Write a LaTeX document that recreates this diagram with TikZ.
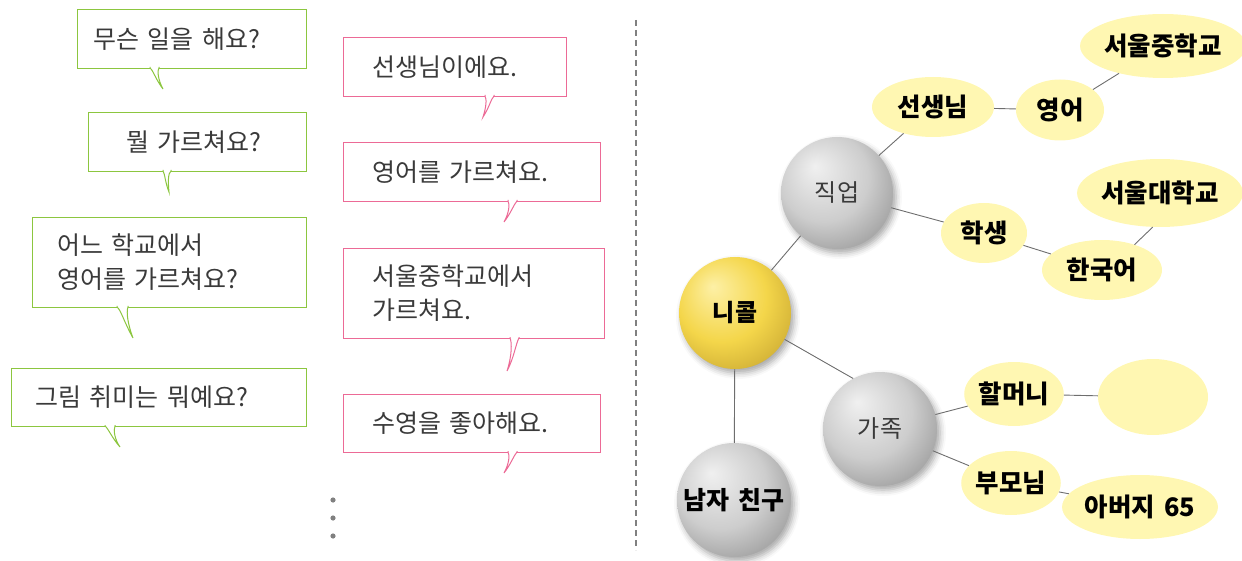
\documentclass[tikz,border=0pt]{standalone}
\usepackage{fontspec}
\setmainfont{Noto Sans CJK KR}
\newfontfamily\talkfont[WordSpace=1.8]{Noto Sans CJK KR}
\newfontfamily\mapfont[WordSpace=1.5]{Noto Sans CJK KR}
\usepackage{xcolor}
\usetikzlibrary{shapes.geometric,shadows.blur}

\definecolor{askgreen}{HTML}{8CC63F}
\definecolor{answerpink}{HTML}{EC6A96}
\definecolor{leafyellow}{HTML}{FFF7B2}
\definecolor{talkgray}{HTML}{3A3A3A}
\definecolor{linkgray}{HTML}{6E6E6E}
\definecolor{greyhi}{HTML}{F0F0F0}
\definecolor{greymid}{HTML}{CDCDCD}
\definecolor{greylo}{HTML}{9C9C9C}
\definecolor{goldhi}{HTML}{FDF0A6}
\definecolor{goldmid}{HTML}{F4D64A}
\definecolor{goldlo}{HTML}{CDAC34}

\pgfdeclareradialshading{greyball}{\pgfpoint{-10bp}{12bp}}{color(0bp)=(greyhi); color(20bp)=(greymid); color(34bp)=(greylo); color(50bp)=(greylo)}
\pgfdeclareradialshading{goldball}{\pgfpoint{-10bp}{12bp}}{color(0bp)=(goldhi); color(20bp)=(goldmid); color(34bp)=(goldlo); color(50bp)=(goldlo)}

\begin{document}
\begin{tikzpicture}[
    x=1pt, y=-1pt,
    ask/.style={rectangle, draw=askgreen, line width=1pt, fill=white, anchor=north west, align=left, inner ysep=0pt, text=talkgray, font={\talkfont\fontsize{25pt}{34pt}\selectfont}},
    answer/.style={ask, draw=answerpink},
    asktail/.style={draw=askgreen, fill=white, line width=1pt},
    answertail/.style={asktail, draw=answerpink},
    ball/.style={circle, minimum size=112pt, inner sep=0pt, shading=greyball, text=talkgray, blur shadow={shadow xshift=3pt, shadow yshift=-4pt, shadow blur radius=6pt, shadow opacity=35}, font={\mapfont\fontsize{24pt}{28pt}\selectfont}},
    mainball/.style={ball, shading=goldball, text=black, font={\mapfont\bfseries\fontsize{24pt}{28pt}\selectfont}},
    topicball/.style={ball, text=black, font={\mapfont\bfseries\fontsize{25pt}{28pt}\selectfont}},
    leaf/.style={ellipse, fill=leafyellow, inner sep=0pt, font={\mapfont\bfseries\fontsize{25.5pt}{28pt}\selectfont}},
    link/.style={draw=linkgray, line width=0.9pt},
    divider/.style={draw=gray, line width=1.5pt, dash pattern=on 6pt off 4pt}
]
\useasboundingbox (0,0) rectangle (1242,561);

% Questions
\node[ask, inner xsep=16pt, text width=197pt, minimum height=59pt] (work) at (77,9) {무슨 일을 해요?};
\path[asktail] (150,67) -- (150,68) .. controls (153,70) and (156,80) .. (163,89) .. controls (158,80) and (157,70) .. (159,68) -- (159,67);
\node[ask, inner xsep=38pt, text width=142pt, minimum height=59pt] (subject) at (88,112) {뭘 가르쳐요?};
\path[asktail] (163,170) -- (163,171) .. controls (165,174) and (165,182) .. (169,192) .. controls (168,182) and (168,173) .. (171,171) -- (171,170);
\node[ask, inner xsep=25pt, text width=224pt, minimum height=90pt] (school) at (32,217) {어느 학교에서\\영어를 가르쳐요?};
\path[asktail] (117,306) -- (117,307) .. controls (121,310) and (124,322) .. (133,338) .. controls (128,325) and (126,312) .. (128,307) -- (128,306);
\node[ask, inner xsep=24pt, text width=247pt, minimum height=58pt] (hobby) at (11,368) {그림 취미는 뭐예요?};
\path[asktail] (105,425) -- (105,426) .. controls (108,428) and (112,438) .. (120,447) .. controls (115,440) and (113,430) .. (115,426) -- (115,425);

% Answers
\node[answer, inner xsep=29pt, text width=165pt, minimum height=59pt] (teacherans) at (343,37) {선생님이에요.};
\path[answertail] (485,95) -- (485,96) .. controls (487,99) and (486,108) .. (483,117) .. controls (489,108) and (491,99) .. (494,96) -- (494,95);
\node[answer, inner xsep=29pt, text width=199pt, minimum height=59pt] (englishans) at (343,142) {영어를 가르쳐요.};
\path[answertail] (508,200) -- (508,201) .. controls (510,204) and (509,213) .. (504,222) .. controls (511,213) and (514,204) .. (517,201) -- (517,200);
\node[answer, inner xsep=29pt, text width=203pt, minimum height=90pt] (schoolans) at (343,248) {서울중학교에서\\가르쳐요.};
\path[answertail] (510,337) -- (510,338) .. controls (512,342) and (512,356) .. (507,371) .. controls (514,358) and (516,343) .. (519,338) -- (519,337);
\node[answer, inner xsep=29pt, text width=199pt, minimum height=58pt] (hobbyans) at (343,394) {수영을 좋아해요.};
\path[answertail] (508,451) -- (508,452) .. controls (510,455) and (509,464) .. (504,473) .. controls (511,464) and (514,455) .. (517,452) -- (517,451);

% Ellipsis and divider
\foreach \y in {500,518,536}
    \fill[gray] (333,\y) circle (2.6pt);
\draw[divider] (636,20) -- (636,550);

% Mind map
\node[mainball] (nicole) at (735,313) {니콜};
\node[ball] (job) at (837,193) {직업};
\node[ball, minimum size=114pt] (family) at (880,429) {가족};
\node[topicball, minimum size=114pt] (boyfriend) at (734,500) {남자 친구};

\node[leaf, minimum width=122pt, minimum height=60pt] (teacher) at (933,107) {선생님};
\node[leaf, minimum width=88pt, minimum height=61pt] (english) at (1060,110) {영어};
\node[leaf, minimum width=156pt, minimum height=64pt] (seoulms) at (1163,46) {서울중학교};
\node[leaf, minimum width=86pt, minimum height=60pt] (student) at (984,233) {학생};
\node[leaf, minimum width=120pt, minimum height=60pt] (korean) at (1102,270) {한국어};
\node[leaf, minimum width=136pt, minimum height=68pt] (seoulu) at (1160,193) {서울대학교};
\node[leaf, minimum width=92pt, minimum height=64pt] (grandma) at (1014,394) {할머니};
\node[leaf, minimum width=110pt, minimum height=76pt] (blank) at (1153,397) {};
\node[leaf, minimum width=92pt, minimum height=64pt] (parents) at (1011,483) {부모님};
\node[leaf, minimum width=128pt, minimum height=64pt] (father) at (1140,507) {아버지 65};

% Links
\draw[link] (nicole) -- (job);
\draw[link] (nicole.-28) -- (family.118);
\draw[link] (nicole) -- (boyfriend);
\draw[link] (job) -- (teacher);
\draw[link] (teacher) -- (english);
\draw[link] (english) -- (seoulms);
\draw[link] (job) -- (student);
\draw[link] (student) -- (korean);
\draw[link] (korean.38) -- (seoulu.-102);
\draw[link] (family) -- (grandma);
\draw[link] (grandma) -- (blank);
\draw[link] (family) -- (parents);
\draw[link] (parents) -- (father);

\end{tikzpicture}
\end{document}
